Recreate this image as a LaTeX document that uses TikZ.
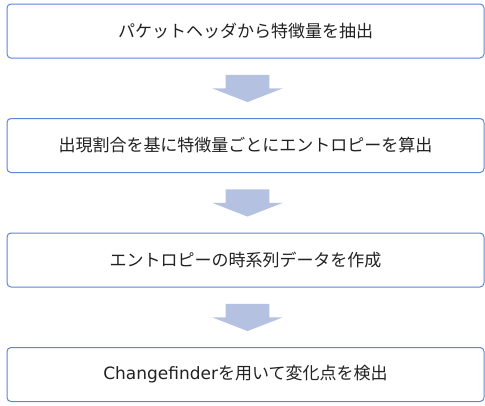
\documentclass[tikz,border=0pt]{standalone}
\usepackage{fontspec}
\setmainfont{Noto Sans CJK JP}
\newfontfamily\latinfont{DejaVu Sans}
\usetikzlibrary{calc}
\definecolor{boxline}{HTML}{5A87D6}
\definecolor{arrowfill}{HTML}{B4C1E0}
\definecolor{txt}{HTML}{222222}
\begin{document}
\begin{tikzpicture}[x=1pt,y=-1pt,
  stepbox/.style={draw=boxline, line width=1pt, rounded corners=4pt, fill=white,
    minimum width=477pt, minimum height=54pt, inner sep=0pt, text=txt,
    font=\fontsize{17pt}{20pt}\selectfont},
  blockarrow/.style={fill=arrowfill, draw=none}]
\useasboundingbox (0,0) rectangle (485,405);
\node[stepbox] (b1) at (245.5,31) {パケットヘッダから特徴量を抽出};
\node[stepbox] (b2) at (245.5,145.5) {出現割合を基に特徴量ごとにエントロピーを算出};
\node[stepbox] (b3) at (245.5,260) {エントロピーの時系列データを作成};
\node[stepbox] (b4) at (245.5,374.5) {{\latinfont Changefinder}を用いて変化点を検出};
\foreach \a/\b/\m in {b1/b2/m1,b2/b3/m2,b3/b4/m3}{
  \coordinate (\m) at ($(\a.south)!0.5!(\b.north)+(2,0)$);
  \fill[blockarrow] ([shift={(-21.8,-13.5)}]\m) -- ([shift={(21.8,-13.5)}]\m)
    -- ([shift={(21.8,0)}]\m) -- ([shift={(35.5,0)}]\m)
    -- ([shift={(0,13.8)}]\m) -- ([shift={(-35.5,0)}]\m)
    -- ([shift={(-21.8,0)}]\m) -- cycle;
}
\end{tikzpicture}
\end{document}
